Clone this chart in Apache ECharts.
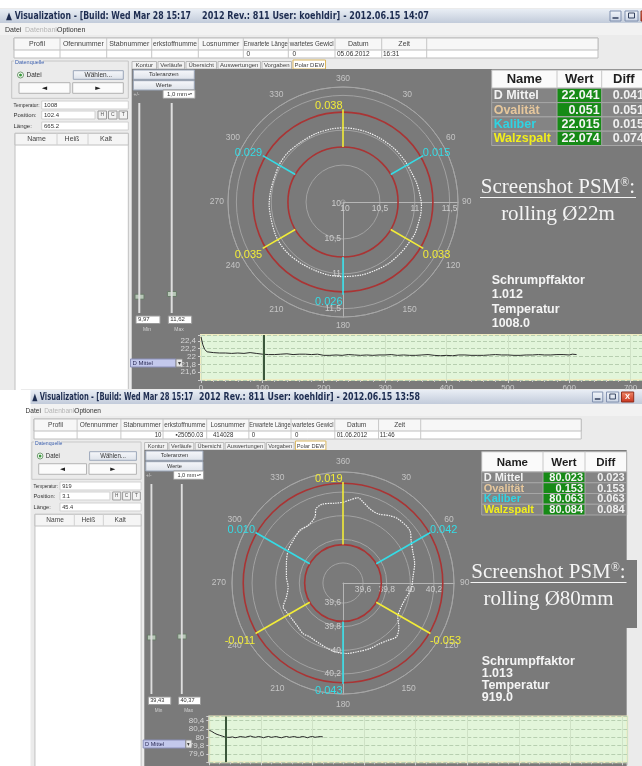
<!DOCTYPE html>
<html>
<head>
<meta charset="utf-8">
<title>PSM Polar DEW</title>
<script src="https://cdn.jsdelivr.net/npm/echarts@6/dist/echarts.min.js"></script>
<style>
html, body { margin: 0; padding: 0; background: #fff; }
#main { width: 642px; height: 766px; }
</style>
</head>
<body>
<div id="main"></div>
<script>
// ---------- values ----------
var spokeAngles = [0, 60, 120, 180, 240, 300];

// upper screenshot, rolling 22 mm
var topRange = [9.97, 11.62];
var topRings = [10.76, 11.26];
var topSpoke = [10.76, 11.30];
var topSpokeLabels = ['0.038', '0.015', '0.033', '0.026', '0.035', '0.029'];
var topProfileAngles = [0, 9, 20, 31, 44, 56, 67, 75, 84, 92, 99, 106, 114, 123, 132, 144, 155, 166,
  180, 191, 202, 214, 226, 236, 245, 258, 268, 279, 290, 301, 312, 325, 338, 351];
var topProfileRadii = [11.035, 11.033, 11.03, 11.027, 11.032, 11.036, 11.04, 11.06, 11.077, 11.096, 11.099, 11.093,
  11.097, 11.081, 11.074, 11.069, 11.054, 11.05, 11.04, 11.038, 11.031, 11.036, 11.049, 11.053, 11.046, 11.03,
  11.03, 11.02, 11.015, 11.03, 11.032, 11.02, 11.026, 11.032];
var topTrendX = [0, 3, 6, 10, 20, 30, 40, 50, 60, 70, 80, 90, 100, 110, 120, 130, 140, 150, 160, 170, 180, 190,
  200, 210, 220, 230, 240, 250, 260, 270, 280, 290, 300, 310, 320, 330, 340, 350, 360, 370, 380, 390, 400, 410,
  420, 430, 440, 450, 460, 470, 480, 490, 500, 510, 520, 530, 540, 550, 560, 570, 580, 590, 600, 605, 612];
var topTrendY = [22.50, 22.30, 22.18, 22.12, 22.10, 22.09, 22.09, 22.08, 22.09, 22.08, 22.10, 22.08, 22.06, 22.05,
  22.05, 22.06, 22.07, 22.05, 22.06, 22.06, 22.05, 22.06, 22.03, 22.03, 22.04, 22.03, 22.05, 22.04, 22.03, 22.04,
  22.03, 22.04, 22.04, 22.05, 22.03, 22.04, 22.03, 22.03, 22.04, 22.05, 22.03, 22.02, 22.03, 22.02, 22.04, 22.04,
  22.03, 22.03, 22.03, 22.04, 22.05, 22.04, 22.04, 22.03, 22.03, 22.04, 22.04, 22.05, 22.04, 22.04, 22.05, 22.05,
  22.04, 22.06, 22.05];
var topTrendTicks = [21.6, 21.8, 22, 22.2, 22.4];
var topCursor = 102.4;
var topWert = ['22.041', '0.051', '22.015', '22.074'];
var topDiff = ['0.041', '0.051', '0.015', '0.074'];

// lower screenshot, rolling 80 mm
var botRange = [39.43, 40.37];
var botRings = [39.755, 40.275];
var botSpoke = [39.755, 40.285];
var botSpokeLabels = ['0.019', '0.042', '-0.053', '0.043', '-0.011', '0.010'];
var botProfileAngles = [0, 5, 10, 14, 20, 27, 35, 41, 52, 59, 66, 75, 85, 95, 103, 112, 122, 128, 135, 142, 149,
  158, 169, 177, 186, 193, 201, 212, 218, 226, 233, 243, 248, 256, 266, 276, 289, 301, 311, 321, 329, 337, 340,
  345, 355];
var botProfileRadii = [40.113, 40.137, 40.163, 40.136, 40.098, 40.087, 40.125, 40.146, 40.149, 40.104, 40.078,
  40.058, 40.025, 40.01, 39.979, 39.963, 39.977, 40.03, 40.072, 40.047, 40.03, 40.03, 40.025, 40.028, 40.016,
  40.0, 39.98, 39.967, 39.976, 39.962, 39.958, 39.968, 39.976, 39.924, 39.896, 39.912, 39.937, 39.971, 39.986,
  40.007, 40.0, 40.037, 40.098, 40.12, 40.109];
var botTrendX = [0, 1, 2, 3, 4, 5, 6, 7, 8, 9, 10, 11, 12, 13, 14, 15, 16, 17, 18, 19, 20, 21, 22, 23, 24, 25,
  26, 27, 28, 29, 30, 31, 32, 33, 34, 35, 36, 37, 38, 39, 40, 41, 42, 43, 44];
var botTrendY = [80.17, 80.14, 80.10, 80.07, 80.05, 80.03, 80.01, 80.00, 80.00, 80.01, 79.99, 80.00, 80.02, 80.01,
  80.00, 80.02, 80.03, 80.01, 80.00, 80.02, 80.01, 79.99, 80.01, 80.02, 80.00, 80.01, 80.02, 80.00, 79.99, 80.01,
  80.02, 80.00, 80.01, 80.02, 80.00, 80.00, 80.02, 80.01, 79.99, 80.01, 80.02, 80.00, 80.01, 80.02, 80.01];
var botTrendTicks = [79.6, 79.8, 80, 80.2, 80.4];
var botCursor = 6.5;
var botWert = ['80.023', '0.153', '80.063', '80.084'];
var botDiff = ['0.023', '0.153', '0.063', '0.084'];

var tableNames = ['D Mittel', 'Ovalität', 'Kaliber', 'Walzspalt'];
var tableHead = ['Name', 'Wert', 'Diff'];
var headerCols = ['Profil', 'Ofennummer', 'Stabnummer', 'erkstoffnumme', 'Losnummer', 'Erwartete Länge',
  'wartetes Gewicl', 'Datum', 'Zeit'];
var tabNames = ['Kontur', 'Verläufe', 'Übersicht', 'Auswertungen', 'Vorgaben', 'Polar DEW'];

// ---------- styling ----------
var UI = '"Liberation Sans", Arial, sans-serif';
var PANEL = '#7a7a7a';
var YELLOW = '#f2ec38';
var CYAN = '#34dce6';
var RED = '#aa3434';
var nameColors = ['#f2f2f2', '#e6c79c', '#2fd3e3', '#f2ee1c'];

var measure = document.createElement('canvas').getContext('2d');

function grad(a, b) {
  return { type: 'linear', x: 0, y: 0, x2: 0, y2: 1, colorStops: [{ offset: 0, color: a }, { offset: 1, color: b }] };
}
function rect(x, y, w, h, fill, stroke, z) {
  return { type: 'rect', z: z || -10, shape: { x: x, y: y, width: w, height: h },
    style: { fill: fill || 'none', stroke: stroke || null, lineWidth: 1 } };
}
function txt(s, x, y, font, color, align, z) {
  return { type: 'text', z: z || -9, style: { text: s, x: x, y: y, font: font, fill: color,
    align: align || 'left', verticalAlign: 'middle' } };
}
function fitTxt(s, x, y, font, color, width, align, shrinkOnly) {
  measure.font = font;
  var k = width / measure.measureText(s).width;
  if (shrinkOnly) k = Math.min(1, k);
  return { type: 'text', z: -9, x: x, y: y, scaleX: k, style: { text: s, x: 0, y: 0, font: font, fill: color,
    align: align || 'left', verticalAlign: 'middle' } };
}
function seg(x1, y1, x2, y2, color, w, z) {
  return { type: 'line', z: z || -9, shape: { x1: x1, y1: y1, x2: x2, y2: y2 }, style: { stroke: color, lineWidth: w || 1 } };
}

// window chrome, laid out in the coordinates of the upper screenshot
function chrome(c) {
  var f6 = '6.5px ' + UI, f7 = '7px ' + UI;
  var els = [];
  els.push(rect(0, 8, 663, 392, '#ebebeb'));
  els.push(rect(0, 9, 663, 14, grad('#e9eef5', '#c2cbda')));
  els.push(fitTxt('▲ Visualization - [Build: Wed Mar 28 15:17', c.tx1, 16, 'bold 10px "DejaVu Sans"', '#1d2c50', c.tw1));
  els.push(fitTxt('2012 Rev.: 811 User: koehldir] - ' + c.stamp, c.tx2, 16, 'bold 10px "DejaVu Sans"', '#1d2c50', c.tw2));
  els.push(rect(610, 11, 11, 10, grad('#f4f7fb', '#c9d3e3'), '#7f8fae'));
  els.push(seg(612.5, 18, 618.5, 18, '#33415e', 1.5));
  els.push(rect(625, 11, 13, 10, grad('#f4f7fb', '#c9d3e3'), '#7f8fae'));
  els.push(rect(628.5, 13, 6, 5, 'none', '#33415e', -9));
  els.push(rect(641, 11, 13, 10, grad('#f08a6c', '#c8321c'), '#8e2a1a'));
  els.push(txt('X', 647.5, 16, 'bold 8px ' + UI, '#ffffff', 'center'));
  // menu
  els.push(rect(0, 23, 663, 12, '#f2f2f2'));
  els.push(txt('Datei', 5, 30, f7, '#333'));
  els.push(txt('Datenbank', 25, 30, f7, '#b4b4b4'));
  els.push(txt('Optionen', 57, 30, f7, '#333'));
  // header table
  var cols = [14, 60, 106.7, 151.7, 198.3, 243.3, 288.3, 335, 381.7, 426.7];
  els.push(rect(14, 38, 584, 20, '#ffffff', '#bdbdbd'));
  els.push(rect(14, 38, 584, 12, '#f7f7f7', '#bdbdbd'));
  for (var i = 1; i < cols.length; i++) els.push(seg(cols[i], 38, cols[i], 58, '#c6c6c6'));
  headerCols.forEach(function (h, i) {
    els.push(fitTxt(h, (cols[i] + cols[i + 1]) / 2, 44.5, f7, '#444', 44, 'center', true));
  });
  c.values.forEach(function (v) { els.push(txt(v[0], v[1], 54, f6, '#333', v[2])); });
  // tabs
  var tabX = [132, 158, 186, 218, 262, 293, 327];
  tabNames.forEach(function (t, i) {
    var sel = i === tabNames.length - 1;
    els.push(rect(tabX[i], sel ? 60 : 61.5, tabX[i + 1] - tabX[i] - 1.5, sel ? 9 : 7.5, sel ? '#ffffff' : '#f2f2f2', sel ? '#d9b45a' : '#b8b8b8'));
    els.push(txt(t, (tabX[i] + tabX[i + 1] - 1.5) / 2, 65, '6px ' + UI, '#444', 'center'));
  });
  // dark panel
  els.push(rect(131.7, 69, 514.8, 323, PANEL));
  els.push(rect(133.3, 70, 61, 9.3, grad('#f7f8fb', '#dde2ea'), '#9aa6b8'));
  els.push(txt('Toleranzen', 163.8, 74.7, '6px ' + UI, '#333', 'center'));
  els.push(rect(133.3, 80.7, 61, 9.3, grad('#f7f8fb', '#dde2ea'), '#9aa6b8'));
  els.push(txt('Werte', 163.8, 85.4, '6px ' + UI, '#333', 'center'));
  els.push(txt('+/-', 133.5, 94.5, '5px ' + UI, '#d0d0d0'));
  els.push(rect(163, 90, 32, 8.3, '#ffffff', '#9a9a9a'));
  els.push(txt('1,0 mm', 167, 94.2, '6px ' + UI, '#333'));
  els.push(txt('▴▾', 190, 94.2, '4px ' + UI, '#555', 'center'));
  // sliders
  els.push(seg(139.3, 103, 139.3, 313, '#dedede', 2));
  els.push(seg(171.7, 103, 171.7, 313, '#dedede', 2));
  els.push(rect(135, c.thumbs[0] - 2.5, 9, 5, '#b7c7b7', '#687a68'));
  els.push(rect(167.4, c.thumbs[1] - 2.5, 9, 5, '#b7c7b7', '#687a68'));
  els.push(rect(136, 316, 24, 7.5, '#ffffff', '#9a9a9a'));
  els.push(txt(c.minV, 138, 319.8, '6px ' + UI, '#333'));
  els.push(rect(168.3, 316, 23.4, 7.5, '#ffffff', '#9a9a9a'));
  els.push(txt(c.maxV, 170.3, 319.8, '6px ' + UI, '#333'));
  els.push(txt('Min', 147, 330, '5px ' + UI, '#d4d4d4', 'center'));
  els.push(txt('Max', 179, 330, '5px ' + UI, '#d4d4d4', 'center'));
  els.push(rect(130.5, 359, 45.5, 8, '#c3c8ec', '#8a8fb8'));
  els.push(txt('D Mittel', 132.5, 363, '6px ' + UI, '#2a2a55'));
  els.push(rect(176, 359, 6.5, 8, '#e6e6e6', '#8a8a8a'));
  els.push(txt('▾', 179.2, 363, '6px ' + UI, '#444', 'center'));
  // left panel
  els.push(rect(11.7, 61, 116.6, 37.3, 'none', '#c6c6c6'));
  els.push(rect(14, 59.5, 29, 5, '#ebebeb'));
  els.push(txt('Datenquelle', 15, 62, '5.5px ' + UI, '#3b5fae'));
  els.push({ type: 'circle', z: -9, shape: { cx: 20.5, cy: 75, r: 3 }, style: { fill: '#ffffff', stroke: '#6f9a6f' } });
  els.push({ type: 'circle', z: -8, shape: { cx: 20.5, cy: 75, r: 1.5 }, style: { fill: '#3a9a3a' } });
  els.push(txt('Datei', 26.5, 75, f6, '#333'));
  els.push(rect(73.3, 70.7, 50, 8.6, grad('#f7f8fb', '#dde2ea'), '#9aa6b8'));
  els.push(txt('Wählen...', 98.3, 75, f6, '#333', 'center'));
  els.push(rect(19, 82.7, 51, 10.6, '#fbfbfb', '#b2b2b2'));
  els.push(rect(72.7, 82.7, 50.6, 10.6, '#fbfbfb', '#b2b2b2'));
  els.push(txt('◄', 44.5, 88, '7px "DejaVu Sans"', '#222', 'center'));
  els.push(txt('►', 98, 88, '7px "DejaVu Sans"', '#222', 'center'));
  [['Temperatur:', 105, c.temp, 86.6], ['Position:', 115, c.pos, 53.3], ['Länge:', 126, c.len, 86.6]].forEach(function (r) {
    els.push(fitTxt(r[0], 13.5, r[1], '6px ' + UI, '#333', 26, 'left', true));
    els.push(rect(41.7, r[1] - 4, r[3], 8, '#ffffff', '#d0d0d0'));
    els.push(txt(r[2], 44, r[1], '6px ' + UI, '#333'));
  });
  ['H', 'C', 'T'].forEach(function (b, i) {
    els.push(rect(98 + i * 10.5, 111, 8.5, 8, '#f4f4f4', '#9a9a9a'));
    els.push(txt(b, 102.25 + i * 10.5, 115, '5px ' + UI, '#555', 'center'));
  });
  els.push(rect(15, 133.3, 113.3, 259, '#ffffff', '#c0c0c0'));
  els.push(rect(15, 133.3, 113.3, 11.7, '#f5f5f5', '#c0c0c0'));
  els.push(seg(57, 133.3, 57, 145, '#d0d0d0'));
  els.push(seg(88, 133.3, 88, 145, '#d0d0d0'));
  els.push(txt('Name', 36.5, 139.2, f7, '#444', 'center'));
  els.push(txt('Heiß', 72, 139.2, f7, '#444', 'center'));
  els.push(txt('Kalt', 106, 139.2, f7, '#444', 'center'));
  return els;
}

// value table, Screenshot caption and shrink factor block on the right
function rightSide(t) {
  var els = [];
  var hb = 'bold ' + t.head + 'px ' + UI, rb = 'bold ' + t.font + 'px ' + UI;
  els.push(rect(t.x0, t.y0, t.x3 - t.x0, t.hh, '#fafafa', '#b0b0b0', -8));
  els.push(seg(t.x1, t.y0, t.x1, t.y0 + t.hh, '#c8c8c8', 1, -7));
  els.push(seg(t.x2, t.y0, t.x2, t.y0 + t.hh, '#c8c8c8', 1, -7));
  els.push(txt(tableHead[0], (t.x0 + t.x1) / 2, t.y0 + t.hh / 2 + 0.5, hb, '#1e1e1e', 'center', -7));
  els.push(txt(tableHead[1], (t.x1 + t.x2) / 2, t.y0 + t.hh / 2 + 0.5, hb, '#1e1e1e', 'center', -7));
  els.push(txt(tableHead[2], (t.x2 + t.x3) / 2, t.y0 + t.hh / 2 + 0.5, hb, '#1e1e1e', 'center', -7));
  tableNames.forEach(function (n, i) {
    var y = t.y0 + t.hh + i * t.rh;
    els.push(rect(t.x0, y, t.x3 - t.x0, t.rh, '#848484', '#a6a6a6', -8));
    els.push(rect(t.x1, y, t.x2 - t.x1, t.rh, '#168a16', '#a6a6a6', -8));
    els.push(txt(n, t.x0 + 2, y + t.rh / 2 + 0.5, rb, nameColors[i], 'left', -7));
    els.push(txt(t.wert[i], t.x2 - 2, y + t.rh / 2 + 0.5, rb, '#f4f4f4', 'right', -7));
    els.push(txt(t.diff[i], t.x3 - 2, y + t.rh / 2 + 0.5, rb, '#f0f0f0', 'right', -7));
  });
  els.push({ type: 'text', z: -7, style: {
    text: '{a|Screenshot PSM}{s|®}{a|:}', x: t.capX, y: t.capY, align: 'center', verticalAlign: 'middle',
    rich: {
      a: { fontFamily: '"Liberation Serif", serif', fontSize: 21, fill: '#f4f4f4' },
      s: { fontFamily: '"Liberation Serif", serif', fontSize: 12, fill: '#f4f4f4', verticalAlign: 'top' }
    } } });
  els.push(seg(t.capX - 78, t.capY + 10.5, t.capX + 78, t.capY + 10.5, '#f4f4f4', 1, -7));
  els.push(txt(t.rolling, t.capX, t.capY + 27, '21px "Liberation Serif", serif', '#f4f4f4', 'center', -7));
  var sb = 'bold 12.5px ' + UI;
  t.shrink.forEach(function (s, i) {
    els.push(txt(s, t.x0, t.sy + i * t.sdy, sb, '#f4f4f4', 'left', -7));
  });
  return els;
}

var topCfg = {
  stamp: '2012.06.15 14:07', tx1: 6, tw1: 185, tx2: 202, tw2: 227,
  values: [['0', 246.5, 'left'], ['0', 292.5, 'left'], ['05.06.2012', 337, 'left'], ['16:31', 383, 'left']],
  temp: '1008', pos: '102.4', len: '665.2', minV: '9,97', maxV: '11,62', thumbs: [296.7, 294]
};
var botCfg = {
  stamp: '2012.06.15 13:58', tx1: 12, tw1: 172, tx2: 190, tw2: 236,
  values: [['10', 150, 'right'], ['▪25050.03', 165, 'left'], ['414028', 205, 'left'], ['0', 246.5, 'left'],
    ['0', 292.5, 'left'], ['01.06.2012', 337, 'left'], ['11:46', 383, 'left']],
  temp: '919', pos: '3.1', len: '45.4', minV: '39,43', maxV: '40,37', thumbs: [256.5, 255.5]
};

var elements = [];
elements.push({ type: 'group', x: 0, y: 0, children: chrome(topCfg) });
elements = elements.concat(rightSide({
  x0: 491.7, x1: 557, x2: 601.7, x3: 646, y0: 70, hh: 18.3, rh: 14.3, head: 13, font: 12.5,
  wert: topWert, diff: topDiff, capX: 558, capY: 187, rolling: 'rolling Ø22m',
  shrink: ['Schrumpffaktor', '1.012', 'Temperatur', '1008.0'], sy: 280.5, sdy: 14.3
}));
elements.push({ type: 'group', x: 20.9, y: 381, scaleX: 0.937, children: chrome(botCfg) });
elements.push(rect(0, 390, 30.5, 376, '#ffffff', null, -9.5));
elements.push(rect(462, 560, 175, 68, PANEL, null, -8));
elements = elements.concat(rightSide({
  x0: 481.7, x1: 543, x2: 585, x3: 626.7, y0: 451.7, hh: 20.3, rh: 10.75, head: 11.5, font: 11,
  wert: botWert, diff: botDiff, capX: 548.5, capY: 572, rolling: 'rolling Ø80mm',
  shrink: ['Schrumpffaktor', '1.013', 'Temperatur', '919.0'], sy: 662, sdy: 11.7
}));

// ---------- polar helpers ----------
function comma(v) { return String(+v.toFixed(2)).replace('.', ','); }
function stepLabel(step) {
  return function (v) {
    var k = v / step;
    return Math.abs(k - Math.round(k)) < 1e-6 ? comma(v) : '';
  };
}
function listLabel(ticks) {
  return function (v) {
    for (var i = 0; i < ticks.length; i++) if (Math.abs(ticks[i] - v) < 1e-6) return comma(v);
    return '';
  };
}
function polarAxes(idx, range, splitNumber, step, angleMargin) {
  var base = { color: '#cdcdcd', fontSize: 8.5, fontFamily: UI, formatter: stepLabel(step) };
  var across = Object.assign({}, base, { margin: -2, align: 'center', verticalAlign: 'top' });
  var down = Object.assign({}, base, { margin: -2, align: 'right', verticalAlign: 'middle' });
  return {
    angle: [
      { polarIndex: idx, type: 'value', min: 0, max: 360, interval: 30, startAngle: 90, clockwise: true,
        axisLine: { lineStyle: { color: '#a6a6a6', width: 1 } }, axisTick: { show: false }, splitLine: { show: false },
        axisLabel: { color: '#c4c4c4', fontSize: 8.5, fontFamily: UI, margin: angleMargin,
          formatter: function (v) { return (v === 0 || v === 360) ? '360' : String(v); } } },
      { polarIndex: idx + 1, type: 'value', min: 0, max: 360, startAngle: 0, clockwise: true, show: false },
      { polarIndex: idx + 2, type: 'value', min: 0, max: 360, startAngle: 270, clockwise: true, show: false }
    ],
    radius: [
      { polarIndex: idx, type: 'value', min: range[0], max: range[1], splitNumber: splitNumber,
        axisLine: { show: false }, axisTick: { show: false }, axisLabel: { show: false },
        splitLine: { show: true, lineStyle: { color: '#a2a2a2', width: 1 } } },
      { polarIndex: idx + 1, type: 'value', min: range[0], max: range[1], splitNumber: splitNumber,
        axisLine: { lineStyle: { color: '#b6b6b6' } }, axisTick: { show: false }, splitLine: { show: false },
        axisLabel: across },
      { polarIndex: idx + 2, type: 'value', min: range[0], max: range[1], splitNumber: splitNumber,
        axisLine: { lineStyle: { color: '#b6b6b6' } }, axisTick: { show: false }, splitLine: { show: false },
        axisLabel: down }
    ]
  };
}
var topAxes = polarAxes(0, topRange, 3, 0.5, 4);
var botAxes = polarAxes(3, botRange, 5, 0.2, 6);

function ringSeries(idx, rings) {
  return {
    type: 'custom', coordinateSystem: 'polar', polarIndex: idx, silent: true, z: 3,
    data: rings.map(function (r) { return [r, 0]; }),
    renderItem: function (params, api) {
      var cs = params.coordSys;
      var p = api.coord([api.value(0), 0]);
      var r = Math.sqrt((p[0] - cs.cx) * (p[0] - cs.cx) + (p[1] - cs.cy) * (p[1] - cs.cy));
      return { type: 'circle', shape: { cx: cs.cx, cy: cs.cy, r: r }, style: { fill: 'none', stroke: RED, lineWidth: 1.6 } };
    }
  };
}
function profileSeries(idx, angles, radii) {
  var d = angles.map(function (a, i) { return [radii[i], a]; });
  d.push(d[0]);
  return { type: 'line', coordinateSystem: 'polar', polarIndex: idx, data: d, symbol: 'none', smooth: 0.3,
    silent: true, z: 4, lineStyle: { color: '#f4f4f4', width: 1.2, type: [1.5, 1] } };
}
function spokeSeries(idx, span) {
  return spokeAngles.map(function (a, i) {
    return { type: 'line', coordinateSystem: 'polar', polarIndex: idx, symbol: 'none', silent: true, z: 5,
      data: [[span[0], a], [span[1], a]], lineStyle: { color: i % 2 === 0 ? YELLOW : CYAN, width: 1.6 } };
  });
}
function spokeLabelSeries(idx, span, labels) {
  return {
    type: 'scatter', coordinateSystem: 'polar', polarIndex: idx, symbolSize: 1, silent: true, z: 6,
    itemStyle: { color: 'rgba(0,0,0,0)' },
    label: { show: true, formatter: '{b}', fontSize: 11, fontFamily: UI, opacity: 1 },
    data: spokeAngles.map(function (a, i) {
      var right = a > 0 && a < 180;
      var lower = a > 90 && a < 270;
      return { name: labels[i], value: [span[1], a], label: {
        position: right ? 'right' : 'left', distance: right ? -1 : 0, offset: [0, lower ? 7 : -3],
        color: i % 2 === 0 ? YELLOW : CYAN } };
    })
  };
}
function trendSeries(idx, xs, ys, cursor) {
  return {
    type: 'line', xAxisIndex: idx, yAxisIndex: idx, symbol: 'none', silent: true,
    data: xs.map(function (x, i) { return [x, ys[i]]; }),
    lineStyle: { color: '#2b2b2b', width: 1 },
    markLine: { symbol: 'none', silent: true, label: { show: false },
      lineStyle: { color: '#3b573b', width: 2, type: 'solid' }, data: [{ xAxis: cursor }] }
  };
}
function trendX(idx, max, interval) {
  return { gridIndex: idx, type: 'value', min: 0, max: max, interval: interval,
    axisLine: { show: false },
    axisTick: { show: true, length: 3, lineStyle: { color: '#d0d0d0' } },
    minorTick: { show: true, splitNumber: 5, length: 2, lineStyle: { color: '#c4c4c4' } },
    axisLabel: { color: '#cfcfcf', fontSize: 8, fontFamily: UI, margin: 4,
      formatter: function (v) { return v % interval === 0 ? String(v) : ''; } },
    splitLine: { show: true, lineStyle: { color: '#cfe2c6' } } };
}
function trendY(idx, min, max, ticks) {
  return { gridIndex: idx, type: 'value', min: min, max: max, interval: 0.2,
    axisLine: { show: false },
    axisTick: { show: true, length: 3, lineStyle: { color: '#d0d0d0' } },
    axisLabel: { color: '#d6d6d6', fontSize: 8, fontFamily: UI, margin: 5, formatter: listLabel(ticks) },
    splitLine: { show: true, lineStyle: { color: '#b7cfb0', type: 'dashed' } } };
}

var polars = [];
[[343, 202, 115], [343, 583, 111]].forEach(function (p) {
  for (var k = 0; k < 3; k++) polars.push({ center: [p[0], p[1]], radius: p[2] });
});

var option = {
  backgroundColor: '#ffffff',
  animation: false,
  graphic: { elements: elements },
  polar: polars,
  angleAxis: topAxes.angle.concat(botAxes.angle),
  radiusAxis: topAxes.radius.concat(botAxes.radius),
  grid: [
    { left: 201, top: 335, width: 448, height: 45, show: true, backgroundColor: '#e2f5da',
      borderColor: '#efecc2', borderWidth: 2, outerBoundsMode: 'none' },
    { left: 209.3, top: 716.5, width: 418, height: 45.8, show: true, backgroundColor: '#e2f5da',
      borderColor: '#efecc2', borderWidth: 2, outerBoundsMode: 'none' }
  ],
  xAxis: [trendX(0, 730, 100), trendX(1, 162, 20)],
  yAxis: [trendY(0, 21.4, 22.55, topTrendTicks), trendY(1, 79.4, 80.5, botTrendTicks)],
  series: [
    ringSeries(0, topRings),
    profileSeries(0, topProfileAngles, topProfileRadii)
  ].concat(spokeSeries(0, topSpoke), [
    spokeLabelSeries(0, topSpoke, topSpokeLabels),
    trendSeries(0, topTrendX, topTrendY, topCursor),
    ringSeries(3, botRings),
    profileSeries(3, botProfileAngles, botProfileRadii)
  ], spokeSeries(3, botSpoke), [
    spokeLabelSeries(3, botSpoke, botSpokeLabels),
    trendSeries(1, botTrendX, botTrendY, botCursor)
  ])
};

var chart = echarts.init(document.getElementById('main'));
chart.setOption(option);
</script>
</body>
</html>
